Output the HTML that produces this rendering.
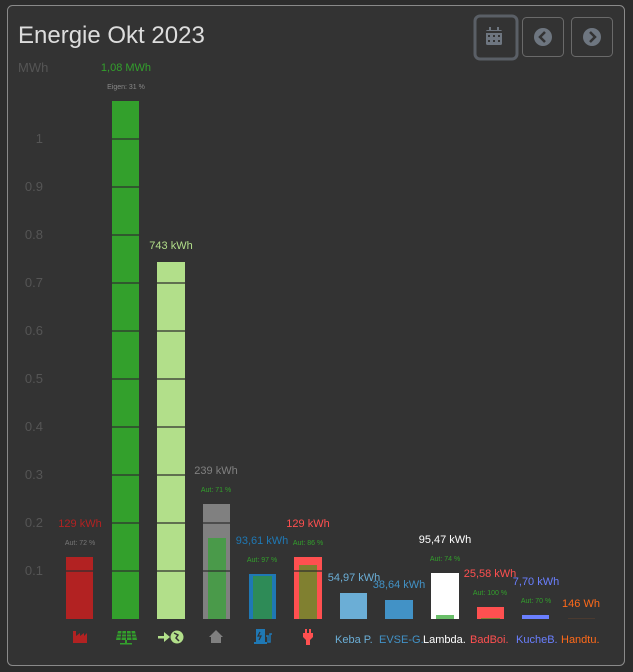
<!DOCTYPE html>
<html><head><meta charset="utf-8"><style>
html,body{margin:0;padding:0;background:#2d2d2d;width:633px;height:672px;overflow:hidden}
svg{display:block;font-family:"Liberation Sans",sans-serif}
</style></head><body>
<svg width="633" height="672" xmlns="http://www.w3.org/2000/svg">
<rect x="0" y="0" width="633" height="672" fill="#2d2d2d"/>
<rect x="7.5" y="5.5" width="617" height="660" rx="5" fill="#333" stroke="#8a8a8a" stroke-width="1"/>
<text x="18" y="43" font-size="24" fill="#ddd">Energie Okt 2023</text>
<rect x="475" y="16" width="42" height="43" rx="5" fill="#333" stroke="#5a5f66" stroke-width="3"/>
<rect x="522.5" y="17.5" width="41" height="39" rx="4" fill="#333" stroke="#6a6a6a"/>
<rect x="571.5" y="17.5" width="41" height="39" rx="4" fill="#333" stroke="#6a6a6a"/>
<g fill="#6e7680">
<rect x="486" y="30" width="16" height="15" rx="1.5"/>
<rect x="489" y="27" width="2" height="4"/><rect x="497" y="27" width="2" height="4"/>
<circle cx="543" cy="37" r="9"/><circle cx="592" cy="37" r="9"/>
</g>
<g fill="#333"><rect x="486" y="31" width="16" height="2"/>
<rect x="488" y="35" width="2" height="2"/><rect x="493" y="35" width="2" height="2"/><rect x="498" y="35" width="2" height="2"/>
<rect x="488" y="40" width="2" height="2"/><rect x="493" y="40" width="2" height="2"/><rect x="498" y="40" width="2" height="2"/></g>
<path d="M545 32 L540 37 L545 42" stroke="#333" stroke-width="2.5" fill="none"/>
<path d="M590 32 L595 37 L590 42" stroke="#333" stroke-width="2.5" fill="none"/>
<text x="18" y="72" font-size="13" fill="#555">MWh</text>
<g font-size="13" fill="#555" text-anchor="end">
<text x="43" y="143">1</text><text x="43" y="191">0.9</text><text x="43" y="239">0.8</text>
<text x="43" y="287">0.7</text><text x="43" y="335">0.6</text><text x="43" y="383">0.5</text>
<text x="43" y="431">0.4</text><text x="43" y="479">0.3</text><text x="43" y="527">0.2</text>
<text x="43" y="575">0.1</text>
</g>
<rect x="66" y="557" width="27" height="62" fill="#b22222"/>
<rect x="112" y="101" width="27" height="518" fill="#33a02c"/>
<rect x="157" y="262" width="28" height="357" fill="#b2df8a"/>
<rect x="203" y="504" width="27" height="115" fill="#808080"/>
<rect x="208" y="538" width="18" height="81" fill="#4a9a4a"/>
<rect x="249" y="574" width="27" height="45" fill="#1f78b4"/>
<rect x="253" y="576" width="19" height="43" fill="#2e8b57"/>
<rect x="294" y="557" width="28" height="62" fill="#ff5050"/>
<rect x="299" y="565" width="18" height="54" fill="#808030"/>
<rect x="340" y="593" width="27" height="26" fill="#6baed6"/>
<rect x="385" y="600" width="28" height="19" fill="#4292c6"/>
<rect x="431" y="573" width="28" height="46" fill="#ffffff"/>
<rect x="436" y="615" width="18" height="4" fill="#6abf69"/>
<rect x="477" y="607" width="27" height="12" fill="#ff5050"/>
<rect x="481" y="618" width="19" height="1" fill="#808030"/>
<rect x="522" y="615" width="27" height="4" fill="#6a7fff"/>
<rect x="568" y="618" width="27" height="1" fill="#4a3a30"/>
<g stroke="#2f2f2f" stroke-width="1.2">
<line x1="66" x2="93" y1="571" y2="571"/>
<line x1="112" x2="139" y1="571" y2="571"/><line x1="112" x2="139" y1="523" y2="523"/><line x1="112" x2="139" y1="475" y2="475"/><line x1="112" x2="139" y1="427" y2="427"/><line x1="112" x2="139" y1="379" y2="379"/><line x1="112" x2="139" y1="331" y2="331"/><line x1="112" x2="139" y1="283" y2="283"/><line x1="112" x2="139" y1="235" y2="235"/><line x1="112" x2="139" y1="187" y2="187"/><line x1="112" x2="139" y1="139" y2="139"/>
<line x1="157" x2="185" y1="571" y2="571"/><line x1="157" x2="185" y1="523" y2="523"/><line x1="157" x2="185" y1="475" y2="475"/><line x1="157" x2="185" y1="427" y2="427"/><line x1="157" x2="185" y1="379" y2="379"/><line x1="157" x2="185" y1="331" y2="331"/><line x1="157" x2="185" y1="283" y2="283"/>
<line x1="203" x2="230" y1="571" y2="571"/><line x1="203" x2="230" y1="523" y2="523"/>
<line x1="294" x2="322" y1="571" y2="571"/>
</g>
<g font-size="11" text-anchor="middle">
<text x="80" y="527" fill="#b22222">129 kWh</text>
<text x="126" y="71" fill="#33a02c">1,08 MWh</text>
<text x="171" y="249" fill="#b2df8a">743 kWh</text>
<text x="216" y="474" fill="#808080">239 kWh</text>
<text x="262" y="544" fill="#1f78b4">93,61 kWh</text>
<text x="308" y="527" fill="#ff5050">129 kWh</text>
<text x="354" y="581" fill="#6baed6">54,97 kWh</text>
<text x="399" y="588" fill="#4292c6">38,64 kWh</text>
<text x="445" y="543" fill="#ffffff">95,47 kWh</text>
<text x="490" y="577" fill="#ff5050">25,58 kWh</text>
<text x="536" y="585" fill="#6a7fff">7,70 kWh</text>
<text x="581" y="607" fill="#ff6a1a">146 Wh</text>
</g>
<g font-size="7" text-anchor="middle">
<text x="80" y="545" fill="#777">Aut: 72 %</text>
<text x="126" y="89" fill="#888">Eigen: 31 %</text>
<text x="216" y="492" fill="#33a02c">Aut: 71 %</text>
<text x="262" y="562" fill="#33a02c">Aut: 97 %</text>
<text x="308" y="545" fill="#33a02c">Aut: 86 %</text>
<text x="445" y="561" fill="#33a02c">Aut: 74 %</text>
<text x="490" y="595" fill="#33a02c">Aut: 100 %</text>
<text x="536" y="603" fill="#33a02c">Aut: 70 %</text>
</g>
<path d="M73 643 L73 631 L76 631 L76 636 L80 633 L80 636 L84 633 L84 636 L87 633 L87 643 Z" fill="#b22222"/>
<g fill="#33a02c"><path d="M118 631 L135 631 L137 640 L116 640 Z"/><rect x="125" y="640" width="2" height="3"/><rect x="120" y="643" width="12" height="1.5"/></g>
<g stroke="#333" stroke-width="1"><line x1="117" y1="634" x2="136" y2="634"/><line x1="117" y1="637" x2="136" y2="637"/><line x1="122" y1="631" x2="121" y2="640"/><line x1="126.5" y1="631" x2="126.5" y2="640"/><line x1="131" y1="631" x2="132" y2="640"/></g>
<g fill="#b2df8a"><rect x="158" y="636" width="10" height="2.5"/><path d="M164 632 L170 637 L164 642 Z"/><circle cx="177" cy="637" r="6.5"/></g>
<path d="M174 633 L178 635 L176 638 L179 641" stroke="#333" stroke-width="1.5" fill="none"/>
<path d="M209 637 L216 630 L223 637 L221 637 L221 643 L211 643 L211 637 Z" fill="#808080"/>
<g fill="#1f78b4"><rect x="256" y="629" width="9" height="13"/><rect x="254" y="642" width="13" height="2"/><path d="M266 636 L268 636 L268 642 L270 642 L270 634 L272 634" stroke="#1f78b4" stroke-width="1.5" fill="none"/></g>
<path d="M260 632 L258 636 L261 636 L259 640" stroke="#333" stroke-width="1.2" fill="none"/>
<g fill="#ff5050"><rect x="305" y="629" width="2" height="4"/><rect x="309" y="629" width="2" height="4"/><path d="M303 633 L313 633 L313 637 L310 640 L310 645 L306 645 L306 640 L303 637 Z"/></g>
<g font-size="11">
<text x="335" y="643" fill="#6baed6">Keba P.</text>
<text x="379" y="643" fill="#4292c6">EVSE-G.</text>
<text x="423" y="643" fill="#ffffff">Lambda.</text>
<text x="470" y="643" fill="#ff5050">BadBoi.</text>
<text x="516" y="643" fill="#6a7fff">KucheB.</text>
<text x="561" y="643" fill="#ff6a1a">Handtu.</text>
</g>
</svg>
</body></html>
